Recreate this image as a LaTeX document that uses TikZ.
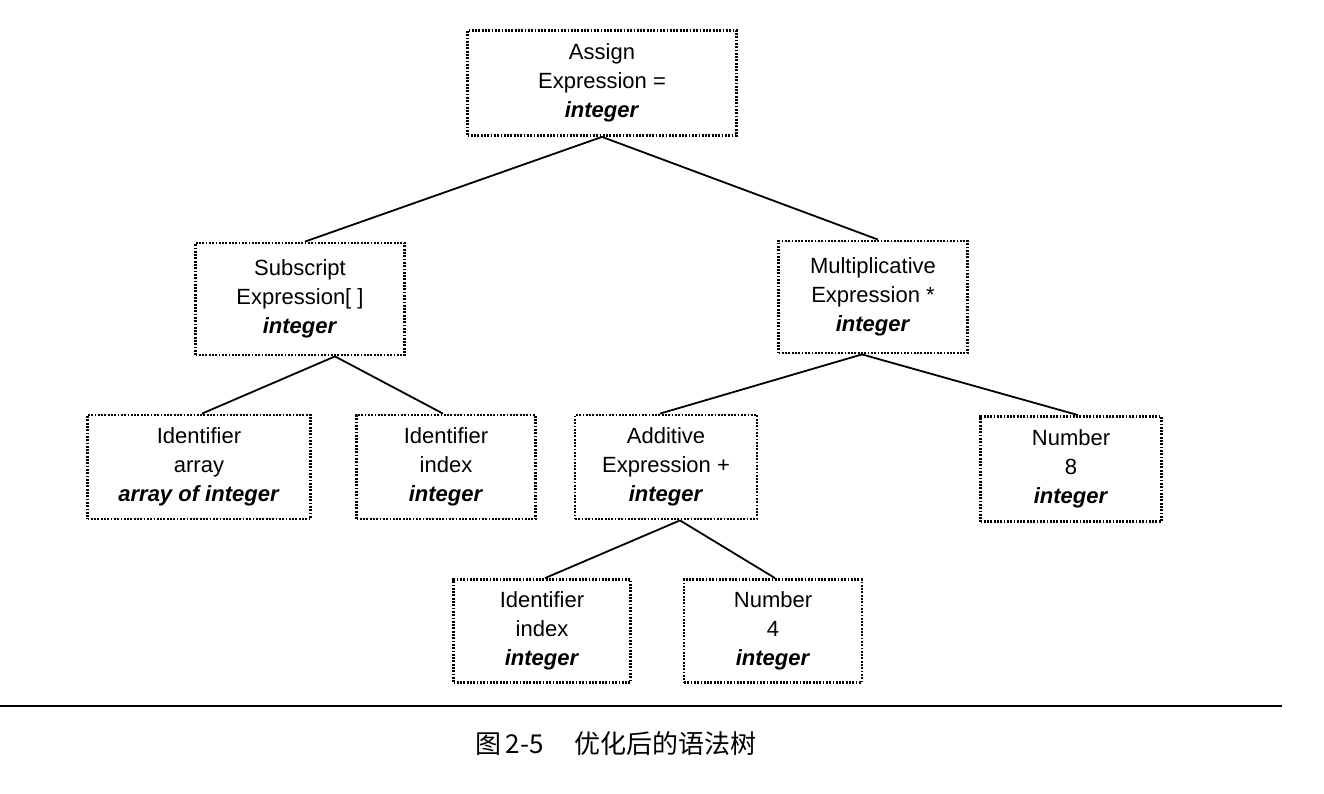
\documentclass[tikz,border=0pt]{standalone}
\usepackage{fontspec}
\setmainfont{Liberation Sans}
\newfontfamily\cjk{Noto Sans CJK SC}
\begin{document}
\begin{tikzpicture}[x=1pt,y=-1pt,
  treebox/.style={draw, line width=2.8pt, dash pattern=on 1.8pt off 1.5pt,
    align=center, inner sep=2pt, font=\fontsize{22}{29}\selectfont},
  edge/.style={line width=1.8pt}]
\useasboundingbox (0,0) rectangle (1324,794);
\newcommand{\tyname}[1]{\textbf{\textit{#1}}}
\node[treebox, minimum width=269, minimum height=105] (assign) at (602,83)
  {Assign\\Expression =\\\tyname{integer}};
\node[treebox, minimum width=209, minimum height=112] (sub) at (300,299)
  {Subscript\\Expression[ ]\\\tyname{integer}};
\node[treebox, minimum width=189, minimum height=112] (mul) at (873,297)
  {Multiplicative\\Expression *\\\tyname{integer}};
\node[treebox, minimum width=223, minimum height=104] (idarr) at (199,467)
  {Identifier\\array\\\tyname{array of integer}};
\node[treebox, minimum width=179, minimum height=104] (idx1) at (446,467)
  {Identifier\\index\\\tyname{integer}};
\node[treebox, minimum width=182, minimum height=104] (add) at (666,467)
  {Additive\\Expression +\\\tyname{integer}};
\node[treebox, minimum width=181, minimum height=105] (num8) at (1071,469)
  {Number\\8\\\tyname{integer}};
\node[treebox, minimum width=177, minimum height=103] (idx2) at (542,631)
  {Identifier\\index\\\tyname{integer}};
\node[treebox, minimum width=178, minimum height=103] (num4) at (773,631)
  {Number\\4\\\tyname{integer}};
\draw[edge] (assign.south) -- ([xshift=5pt]sub.north);
\draw[edge] (assign.south) -- ([xshift=5pt]mul.north);
\draw[edge] ([xshift=35pt]sub.south) -- ([xshift=3pt]idarr.north);
\draw[edge] ([xshift=35pt]sub.south) -- ([xshift=-3pt]idx1.north);
\draw[edge] ([xshift=-11pt]mul.south) -- ([xshift=-6pt]add.north);
\draw[edge] ([xshift=-11pt]mul.south) -- ([xshift=7pt]num8.north);
\draw[edge] ([xshift=14pt]add.south) -- ([xshift=3pt]idx2.north);
\draw[edge] ([xshift=14pt]add.south) -- ([xshift=2pt]num4.north);
\coordinate (rl) at (0,706);
\coordinate (rr) at (1282,706);
\draw[line width=2pt] (rl) -- (rr);
\node[font=\cjk\fontsize{26}{30}\selectfont, anchor=center] (cap) at (616,744)
  {图\,2-5\hspace{1.2em}优化后的语法树};
\end{tikzpicture}
\end{document}
